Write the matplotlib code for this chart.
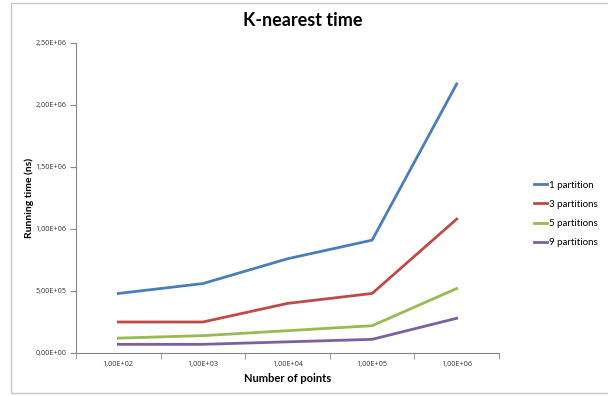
import matplotlib.pyplot as plt
from matplotlib.patches import Rectangle

# number of points (categorical axis, Excel-style)
categories = ["1,00E+02", "1,00E+03", "1,00E+04", "1,00E+05", "1,00E+06"]

# running time in ns
time_1p = [4.8e5, 5.6e5, 7.6e5, 9.1e5, 2.17e6]
time_3p = [2.5e5, 2.5e5, 4.0e5, 4.8e5, 1.08e6]
time_5p = [1.2e5, 1.4e5, 1.8e5, 2.2e5, 5.2e5]
time_9p = [7.0e4, 7.0e4, 9.0e4, 1.1e5, 2.8e5]

series = [
    ("1 partition", time_1p, "#4a7ebb"),
    ("3 partitions", time_3p, "#be4b48"),
    ("5 partitions", time_5p, "#98b954"),
    ("9 partitions", time_9p, "#7d60a0"),
]

plt.rcParams["font.family"] = ["Lato", "DejaVu Sans"]
tick_font = {"family": "Open Sans", "size": 5.2, "color": "#333333"}

W, H = 608, 396
fig = plt.figure(figsize=(W / 100, H / 100), dpi=100)
ax = fig.add_axes([76 / W, 1 - 353 / H, (499 - 76) / W, (353 - 43) / H])

# chart border
fig.patches.append(Rectangle((11 / W, 3 / H), 1.2, (393 - 3) / H, transform=fig.transFigure,
                             fill=False, edgecolor="#c8c8c8", linewidth=1.0))

x = list(range(len(categories)))
for label, vals, color in series:
    ax.plot(x, vals, color=color, linewidth=2.0, label=label)

ax.set_xlim(-0.5, len(categories) - 0.5)
ax.set_ylim(0, 2.5e6)
yticks = [0, 5e5, 1e6, 1.5e6, 2e6, 2.5e6]
ax.set_yticks(yticks)
ax.set_yticklabels([f"{v:.2E}".replace(".", ",") for v in yticks], fontdict=tick_font)
ax.set_xticks(x)
ax.set_xticklabels(categories, fontdict=tick_font)
ax.set_xticks([i - 0.5 for i in range(len(categories) + 1)], minor=True)
ax.tick_params(axis="x", which="major", length=0, pad=6)
ax.tick_params(axis="x", which="minor", length=4, color="#868686", direction="out")
ax.tick_params(axis="y", length=4, color="#868686", direction="out", pad=3)

for side in ["top", "right"]:
    ax.spines[side].set_visible(False)
for side in ["left", "bottom"]:
    ax.spines[side].set_color("#868686")
    ax.spines[side].set_linewidth(0.8)

ax.set_xlabel("Number of points", fontsize=8, fontweight="bold", labelpad=3)
ax.set_ylabel("Running time (ns)", fontsize=7.5, fontweight="bold", labelpad=1)
fig.text(303 / W, 1 - 20 / H, "K-nearest time", ha="center", va="center",
         fontsize=13, fontweight="bold")

fig.legend(loc="center left", bbox_to_anchor=(525 / W, 1 - 214 / H), frameon=False,
           fontsize=7, handlelength=1.4, handletextpad=0.2, labelspacing=1.05)

fig.savefig("out.png", dpi=100)
